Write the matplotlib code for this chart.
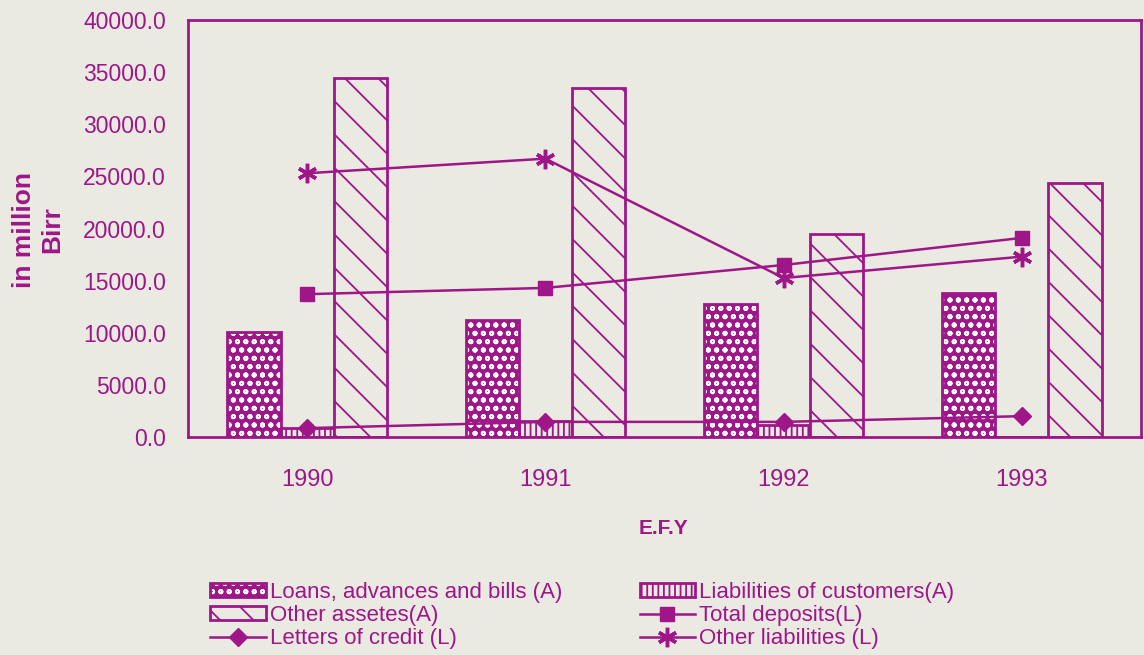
import numpy as np
import matplotlib
matplotlib.use("Agg")
import matplotlib.pyplot as plt
from matplotlib.patches import Patch
from matplotlib.lines import Line2D
from matplotlib.legend_handler import HandlerTuple

# ---- data (million Birr) ----
years = ["1990", "1991", "1992", "1993"]
loans_advances_bills = [10100, 11200, 12800, 13800]
liabilities_of_customers = [900, 1500, 1150, 0]
other_assets = [34400, 33500, 19500, 24400]
total_deposits = [13700, 14300, 16500, 19100]
letters_of_credit = [850, 1450, 1450, 2000]
other_liabilities = [25300, 26700, 15250, 17300]

y_ticks = [0, 5000, 10000, 15000, 20000, 25000, 30000, 35000, 40000]

MAG = "#9e1688"
BG = "#ebeae2"

plt.rcParams["font.family"] = ["Liberation Sans", "DejaVu Sans"]
plt.rcParams["hatch.linewidth"] = 1.3

fig = plt.figure(figsize=(11.44, 6.55), dpi=100, facecolor=BG)
ax = fig.add_axes([188 / 1144, 1 - 437 / 655, (1141 - 188) / 1144, (437 - 20) / 655])
ax.set_facecolor(BG)

x = np.arange(len(years))
w = 0.223

# loans: filled bar with white circle pattern, plus outline
ax.bar(x - w, loans_advances_bills, w, color=MAG, edgecolor="white",
       linewidth=0, hatch="oo", zorder=2)
ax.bar(x - w, loans_advances_bills, w, facecolor="none", edgecolor=MAG,
       linewidth=2, zorder=3)
# liabilities of customers: vertical stripes
ax.bar(x, liabilities_of_customers, w, facecolor=BG, edgecolor=MAG,
       linewidth=2, hatch="|||", zorder=2)
# other assets: diagonal stripes
ax.bar(x + w, other_assets, w, facecolor=BG, edgecolor=MAG,
       linewidth=2, hatch="\\", zorder=2)

# liability lines
ax.plot(x, total_deposits, color=MAG, lw=1.8, marker="s", ms=10, zorder=4)
ax.plot(x, letters_of_credit, color=MAG, lw=1.8, marker="D", ms=9, zorder=4)
ax.plot(x, other_liabilities, color=MAG, lw=1.8, marker=(6, 2, 0), ms=14,
        mew=2.5, zorder=4)

ax.set_xlim(-0.5, 3.5)
ax.set_ylim(0, 40000)
ax.set_xticks(x)
ax.set_xticklabels(years)
ax.set_yticks(y_ticks)
ax.set_yticklabels([f"{v:.1f}" for v in y_ticks])
ax.tick_params(axis="x", length=0, pad=23, labelsize=17, labelcolor=MAG)
ax.tick_params(axis="y", length=0, pad=16, labelsize=16.5, labelcolor=MAG)
for s in ax.spines.values():
    s.set_color(MAG)
    s.set_linewidth(2)

fig.text(38 / 1144, 1 - 230 / 655, "in million\nBirr", rotation=90,
         ha="center", va="center", multialignment="center",
         fontsize=19, fontweight="bold", color=MAG, linespacing=1.25)
fig.text(663 / 1144, 1 - 528 / 655, "E.F.Y", ha="center", va="center",
         fontsize=15, fontweight="bold", color=MAG)

# legend
h_loans = (Patch(facecolor=MAG, edgecolor="white", linewidth=0, hatch="oo"),
           Patch(facecolor="none", edgecolor=MAG, linewidth=2))
h_liab = Patch(facecolor=BG, edgecolor=MAG, linewidth=2, hatch="|||")
h_other = Patch(facecolor=BG, edgecolor=MAG, linewidth=2, hatch="\\")
h_dep = Line2D([], [], color=MAG, lw=1.8, marker="s", ms=10)
h_loc = Line2D([], [], color=MAG, lw=1.8, marker="D", ms=9)
h_oth = Line2D([], [], color=MAG, lw=1.8, marker=(6, 2, 0), ms=14, mew=2.5)

leg = fig.legend(
    [h_loans, h_other, h_loc, h_liab, h_dep, h_oth],
    ["Loans, advances and bills (A)", "Other assetes(A)", "Letters of credit (L)",
     "Liabilities of customers(A)", "Total deposits(L)", "Other liabilities (L)"],
    handler_map={tuple: HandlerTuple(ndivide=1)},
    ncol=2, loc="upper left", bbox_to_anchor=(210 / 1144, 1 - 582 / 655),
    frameon=False, fontsize=16, handlelength=2.5, handleheight=0.6,
    handletextpad=0.18, columnspacing=3.5, labelspacing=0.1, borderpad=0,
    borderaxespad=0,
)
for t in leg.get_texts():
    t.set_color(MAG)

fig.savefig("out.png", dpi=100, facecolor=BG)
